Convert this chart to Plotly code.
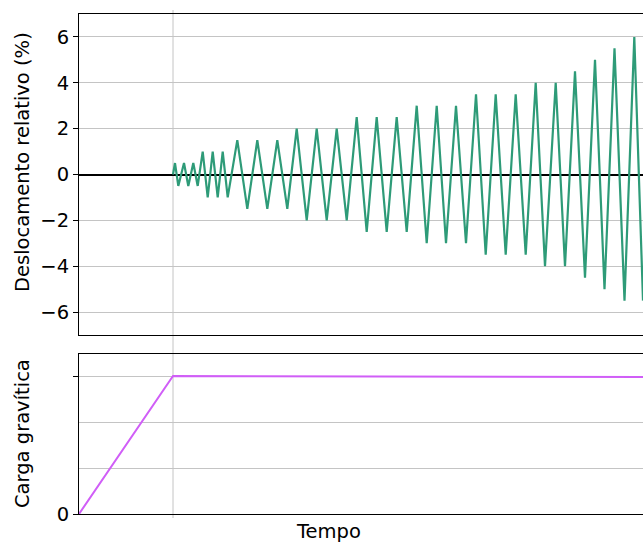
import plotly.graph_objects as go

# --- data (time in arbitrary units, gravity ramp ends at t=94) ---
disp_time = [94, 96, 99.3, 105, 109.3, 114.3, 118.7,
             123.7, 128.7, 133.7, 138.7, 143.7, 148.7,
             158.3, 168.3, 178.3, 188.3, 198.3, 208.3,
             217.7, 227.7, 237.7, 247.7, 257.7, 267.7,
             277.7, 287.7, 297.7, 307.7, 317.7, 327.7,
             337.7, 347.7, 357.7, 367, 377, 387,
             397, 406.7, 416.7, 426.7, 436.7, 446.7,
             456.7, 466, 476.7, 486,
             496, 506,
             516, 525.5,
             535.5, 545.5,
             555.3, 564]
disp_value = [0, 0.5, -0.5, 0.5, -0.5, 0.5, -0.5,
              1, -1, 1, -1, 1, -1,
              1.5, -1.5, 1.5, -1.5, 1.5, -1.5,
              2, -2, 2, -2, 2, -2,
              2.5, -2.5, 2.5, -2.5, 2.5, -2.5,
              3, -3, 3, -3, 3, -3,
              3.5, -3.5, 3.5, -3.5, 3.5, -3.5,
              4, -4, 4, -4,
              4.5, -4.5,
              5, -5,
              5.5, -5.5,
              6, -5.5]

load_time = [0, 94, 564]
load_value = [0, 1, 0.993]

ramp_end = 94
x_range = [0, 564]

disp_ticks = [-6, -4, -2, 0, 2, 4, 6]
load_ticks = [0, 1]
load_ticklabels = ["0", ""]
load_minor = [1 / 3, 2 / 3]

GREEN = "#2e9b78"
PURPLE = "#d05ef7"
GRID = "#c4c4c4"
FONT = "DejaVu Sans"
FS = 19.5

fig = go.Figure()
fig.add_trace(go.Scatter(x=disp_time, y=disp_value, mode="lines",
                         line=dict(color=GREEN, width=2.2),
                         xaxis="x", yaxis="y", showlegend=False))
fig.add_trace(go.Scatter(x=load_time, y=load_value, mode="lines",
                         line=dict(color=PURPLE, width=2),
                         xaxis="x2", yaxis="y2", showlegend=False))

W, H = 643, 542
ml, mr, mt, mb = 79, 0, 14, 28
ph = H - mt - mb  # 500
top_dom = [(514 - 335) / ph, 1]
bot_dom = [0, (514 - 354) / ph]

axis_common = dict(showline=True, linecolor="black", linewidth=1)

fig.update_layout(
    width=W, height=H,
    margin=dict(l=ml, r=mr, t=mt, b=mb, pad=0),
    plot_bgcolor="white", paper_bgcolor="white",
    font=dict(family=FONT, size=FS, color="black"),
    xaxis=dict(domain=[0, 1], range=x_range, anchor="y", showticklabels=False,
               ticks="", showgrid=False, zeroline=False, mirror=True, **axis_common),
    yaxis=dict(domain=top_dom, range=[-7, 7], anchor="x", tickvals=disp_ticks,
               ticks="outside", ticklen=5, tickcolor="black", showgrid=True,
               gridcolor=GRID, gridwidth=1, zeroline=True, zerolinecolor="black",
               zerolinewidth=1.5, mirror=False, tickfont=dict(size=FS), **axis_common),
    xaxis2=dict(domain=[0, 1], range=x_range, anchor="y2", showticklabels=False,
                ticks="", showgrid=False, zeroline=False, mirror=True, **axis_common),
    yaxis2=dict(domain=bot_dom, range=[0, 160 / 138], anchor="x2", tickvals=load_ticks,
                ticktext=load_ticklabels, ticks="outside", ticklen=5, tickcolor="black",
                showgrid=True, gridcolor=GRID, gridwidth=1, zeroline=False,
                minor=dict(tickvals=load_minor, showgrid=True, gridcolor=GRID,
                           gridwidth=1, ticks=""),
                mirror=False, tickfont=dict(size=FS), **axis_common),
)

fig.add_shape(type="line", xref="x", yref="paper", x0=ramp_end, x1=ramp_end,
              y0=-0.008, y1=1.008, line=dict(color=GRID, width=1), layer="below")

pw = W - ml - mr
fig.add_annotation(text="Deslocamento relativo (%)", xref="paper", yref="paper",
                   x=-(ml - 22) / pw, y=(514 - 162) / ph,
                   textangle=-90, showarrow=False, xanchor="center", yanchor="middle",
                   font=dict(size=FS))
fig.add_annotation(text="Carga gravítica", xref="paper", yref="paper",
                   x=-(ml - 22) / pw, y=(bot_dom[0] + bot_dom[1]) / 2,
                   textangle=-90, showarrow=False, xanchor="center", yanchor="middle",
                   font=dict(size=FS))
fig.add_annotation(text="Tempo", xref="paper", yref="paper",
                   x=(328 - ml) / pw, y=0, yshift=-17, showarrow=False,
                   xanchor="center", yanchor="middle", font=dict(size=FS))

fig.write_html("out.html",
               config={"displayModeBar": False},
               post_script="document.body.style.margin='0';"
                           "document.body.style.overflow='hidden';")
